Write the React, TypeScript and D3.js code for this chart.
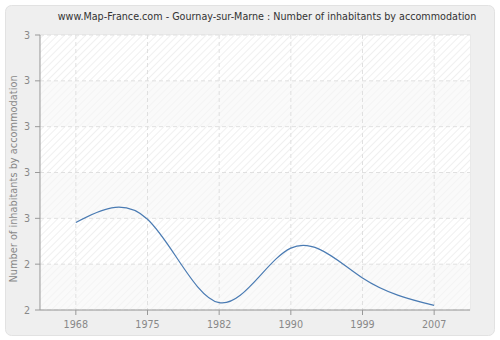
import React from "react";
import * as d3 from "d3";

const years = ["1968", "1975", "1982", "1990", "1999", "2007"];
const values = [2.491, 2.498, 2.316, 2.435, 2.37, 2.31];
const yTicks = [2.3, 2.4, 2.5, 2.6, 2.7, 2.8, 2.9];
const yTickLabels = ["2", "2", "3", "3", "3", "3", "3"];
const title = "www.Map-France.com - Gournay-sur-Marne : Number of inhabitants by accommodation";
const yTitle = "Number of inhabitants by accommodation";

const W = 500, H = 340;
const L = 40, R = 470, T = 35, B = 310;

export default function App() {
  const x = d3.scalePoint<string>().domain(years).range([L, R]).padding(0.5);
  const y = d3.scaleLinear().domain([2.3, 2.9]).range([B, T]);
  const line = d3
    .line<number>()
    .x((_, i) => x(years[i])!)
    .y((d) => y(d))
    .curve(d3.curveNatural);
  const font = "DejaVu Sans, Verdana, sans-serif";
  const bands = yTicks.slice(0, -1).map((t, i) => ({ y0: y(yTicks[i + 1]), y1: y(t), i }));
  return (
    <svg width={W} height={H} style={{ position: "absolute", left: 0, top: 0 }}>
      <defs>
        <pattern id="hatch" patternUnits="userSpaceOnUse" width="5" height="5" patternTransform="rotate(45)">
          <rect width="5" height="5" fill="#ffffff" />
          <line x1="0" y1="0" x2="0" y2="5" stroke="#ececec" strokeWidth="1.5" />
        </pattern>
        <pattern id="hatch2" patternUnits="userSpaceOnUse" width="5" height="5" patternTransform="rotate(45)">
          <rect width="5" height="5" fill="#fafafa" />
          <line x1="0" y1="0" x2="0" y2="5" stroke="#f3f3f3" strokeWidth="1.5" />
        </pattern>
      </defs>
      <rect x={0} y={0} width={W} height={H} fill="#ffffff" />
      <rect x={5.5} y={5.5} width={489} height={330} rx={6} fill="#efefef" stroke="#e2e2e2" />
      <text x={267} y={20} textAnchor="middle" fontFamily={font} fontSize={9.6} fill="#333">
        {title}
      </text>
      <rect x={L} y={T} width={R - L} height={B - T} fill="#fafafa" stroke="#e4e4e4" />
      {bands.map((b) => (
        <rect
          key={b.i}
          x={L}
          y={b.y0}
          width={R - L}
          height={b.y1 - b.y0}
          fill={(yTicks.length - 2 - b.i) % 2 === 0 ? "url(#hatch)" : "url(#hatch2)"}
        />
      ))}
      {yTicks.map((t, i) => (
        <line key={"gy" + i} x1={L} x2={R} y1={y(t)} y2={y(t)} stroke="#e0e0e0" strokeDasharray="4,3" />
      ))}
      {years.map((yr) => (
        <line key={"gx" + yr} x1={x(yr)} x2={x(yr)} y1={T} y2={B} stroke="#e0e0e0" strokeDasharray="4,3" />
      ))}
      <path d={line(values) || ""} fill="none" stroke="#4a7bb3" strokeWidth={1.2} />
      <line x1={L} x2={L} y1={T} y2={B} stroke="#999" />
      <line x1={L} x2={R} y1={B} y2={B} stroke="#999" />
      {yTicks.map((t, i) => (
        <g key={"ty" + i}>
          <line x1={L - 5} x2={L} y1={y(t)} y2={y(t)} stroke="#999" />
          <text x={L - 10} y={y(t) + 3.5} textAnchor="end" fontFamily={font} fontSize={9.6} fill="#888">
            {yTickLabels[i]}
          </text>
        </g>
      ))}
      {years.map((yr) => (
        <g key={"tx" + yr}>
          <line x1={x(yr)} x2={x(yr)} y1={B} y2={B + 5} stroke="#999" />
          <text x={x(yr)} y={B + 18} textAnchor="middle" fontFamily={font} fontSize={9.6} fill="#888">
            {yr}
          </text>
        </g>
      ))}
      <text
        transform={`translate(17,179) rotate(-90)`}
        textAnchor="middle"
        fontFamily={font}
        fontSize={9.8}
        fill="#888"
      >
        {yTitle}
      </text>
    </svg>
  );
}
